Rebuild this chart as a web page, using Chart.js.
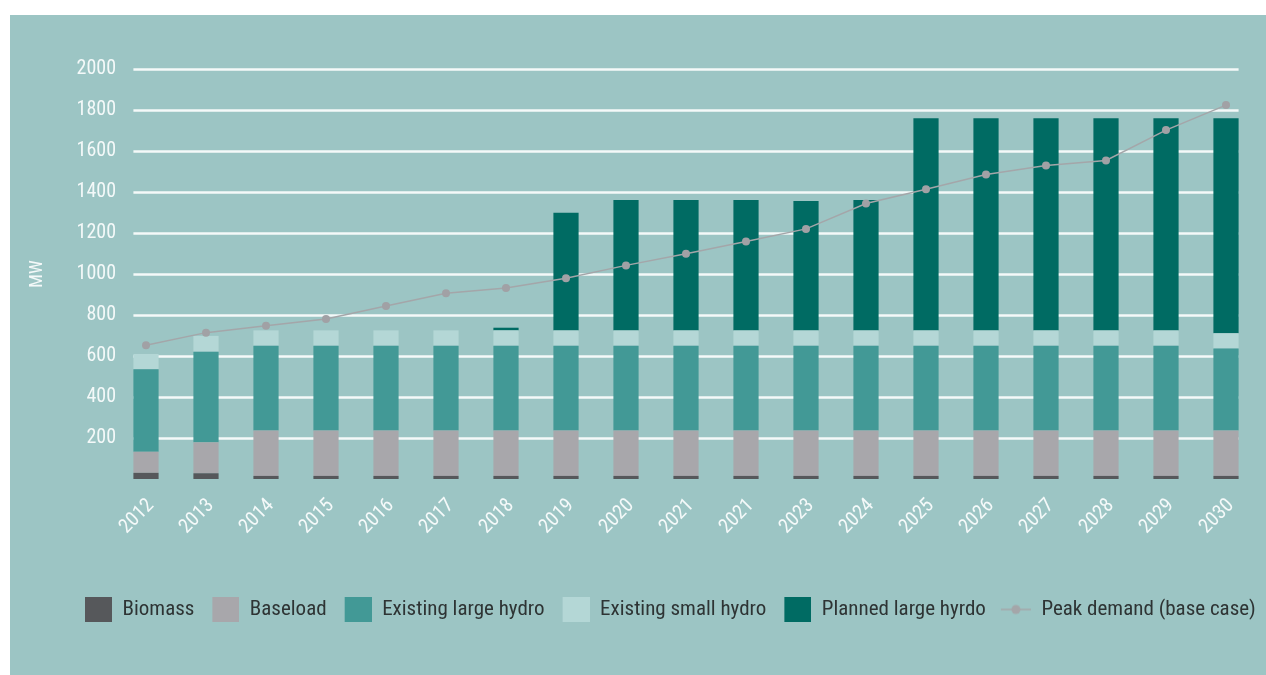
<!DOCTYPE html>
<html>
<head>
<meta charset="utf-8">
<script src="https://cdn.jsdelivr.net/npm/chart.js@4/dist/chart.umd.min.js"></script>
<style>
  html, body { margin: 0; padding: 0; background: #fff; }
  #panel { position: absolute; left: 10px; top: 15px; width: 1256px; height: 660px; background: #9cc5c4; }
  #chart { position: absolute; left: 0; top: 0; }
</style>
</head>
<body>
<div id="panel"></div>
<canvas id="chart" width="1266" height="675"></canvas>
<script>
const years = ['2012', '2013', '2014', '2015', '2016', '2017', '2018', '2019', '2020', '2021',
               '2021', '2023', '2024', '2025', '2026', '2027', '2028', '2029', '2030'];

// MW per source, stacked bottom to top
const biomass      = [30, 28, 15, 15, 15, 15, 15, 15, 15, 15, 15, 15, 15, 15, 15, 15, 15, 15, 15];
const baseload     = [103, 151, 221, 221, 221, 221, 221, 221, 221, 221, 221, 221, 221, 221, 221, 221, 221, 221, 221];
const largeHydro   = [402, 442, 414, 414, 414, 414, 414, 414, 414, 414, 414, 414, 414, 414, 414, 414, 414, 414, 400];
const smallHydro   = [75, 77, 75, 75, 75, 75, 75, 75, 75, 75, 75, 75, 75, 75, 75, 75, 75, 75, 75];
const plannedHydro = [0, 0, 0, 0, 0, 0, 13, 574, 636, 636, 636, 631, 636, 1035, 1035, 1035, 1035, 1035, 1049];
const peakDemand   = [652, 714, 748, 780, 844, 906, 932, 979, 1042, 1099, 1158, 1220, 1344, 1413, 1485, 1529, 1554, 1702, 1824];

const yTicks = [200, 400, 600, 800, 1000, 1200, 1400, 1600, 1800, 2000];

const FONT = "'Roboto Condensed', 'Liberation Sans', sans-serif";
const WHITE = '#f4f9f9';
const LINE_GREY = '#a4a6a9';

// legend markers are 43px wide; the mark sits at the right, the left part spaces the items
const ICON_W = 43;
function boxIcon(color) {
    const c = document.createElement('canvas');
    c.width = ICON_W; c.height = 25;
    const g = c.getContext('2d');
    g.fillStyle = color;
    g.fillRect(ICON_W - 27, 0, 27, 25);
    return c;
}
function lineIcon(color) {
    const c = document.createElement('canvas');
    c.width = ICON_W; c.height = 12;
    const g = c.getContext('2d');
    g.strokeStyle = color;
    g.lineWidth = 1.5;
    g.beginPath(); g.moveTo(ICON_W - 30, 6); g.lineTo(ICON_W, 6); g.stroke();
    g.fillStyle = color;
    g.beginPath(); g.arc(ICON_W - 15, 6, 4.5, 0, Math.PI * 2); g.fill();
    return c;
}

// white grid lines spanning from the first bar to the last one
const gridLines = {
    id: 'gridLines',
    beforeDatasetsDraw(chart) {
        const bars = chart.getDatasetMeta(0).data;
        const first = bars[0], last = bars[bars.length - 1];
        const x0 = first.x - first.width / 2;
        const x1 = last.x + last.width / 2;
        const y = chart.scales.y;
        const ctx = chart.ctx;
        ctx.save();
        ctx.strokeStyle = WHITE;
        ctx.lineWidth = 2.5;
        y.ticks.forEach(t => {
            const py = Math.round(y.getPixelForValue(t.value)) + 0.5;
            ctx.beginPath();
            ctx.moveTo(x0, py);
            ctx.lineTo(x1, py);
            ctx.stroke();
        });
        ctx.restore();
    }
};

const bar = (label, data, color) => ({
    type: 'bar', label, data, backgroundColor: color, borderWidth: 0,
    categoryPercentage: 0.42, barPercentage: 1, order: 1
});

new Chart(document.getElementById('chart'), {
    data: {
        labels: years,
        datasets: [
            bar('Biomass', biomass, '#56585b'),
            bar('Baseload', baseload, '#a8a7ab'),
            bar('Existing large hydro', largeHydro, '#429996'),
            bar('Existing small hydro', smallHydro, '#b4d7d6'),
            bar('Planned large hyrdo', plannedHydro, '#006b63'),
            {
                type: 'line', label: 'Peak demand (base case)', data: peakDemand,
                stack: 'demand', order: 0,
                borderColor: LINE_GREY, borderWidth: 1.5,
                pointRadius: 4, pointBackgroundColor: '#a1a1a5', pointBorderWidth: 0,
                tension: 0
            }
        ]
    },
    options: {
        responsive: false,
        animation: false,
        layout: { padding: { left: 67, right: 0, top: 69, bottom: 45 } },
        scales: {
            x: {
                stacked: true,
                grid: { display: false, drawTicks: false },
                border: { display: false },
                ticks: {
                    color: WHITE, font: { family: FONT, size: 20 },
                    maxRotation: 45, minRotation: 45, padding: 15, labelOffset: 5, autoSkip: false
                },
                afterFit: s => { s.height = 118; }
            },
            y: {
                stacked: true,
                min: 0, max: 2000,
                grid: { display: false, drawTicks: false },
                border: { display: false },
                afterBuildTicks: s => { s.ticks = yTicks.map(v => ({ value: v })); },
                ticks: {
                    color: WHITE, font: { family: FONT, size: 20 }, padding: 0,
                    callback: v => String(v)
                },
                title: {
                    display: true, text: 'MW', color: WHITE,
                    font: { family: FONT, size: 18 }, padding: { top: -40, bottom: 0 }
                },
                afterFit: s => { s.width = 49; }
            },
            // empty strip on the right of the plot, keeps the legend row wide
            edge: {
                type: 'linear', position: 'right',
                ticks: { display: false },
                grid: { display: false, drawTicks: false },
                border: { display: false },
                afterFit: s => { s.width = 10; }
            }
        },
        plugins: {
            tooltip: { enabled: false },
            legend: {
                position: 'bottom',
                align: 'start',
                labels: {
                    color: '#2e3434',
                    font: { family: FONT, size: 21 },
                    usePointStyle: true,
                    pointStyleWidth: ICON_W,
                    padding: 2,
                    generateLabels: chart => chart.data.datasets.map((ds, i) => ({
                        text: ds.label,
                        pointStyle: ds.type === 'line' ? lineIcon(LINE_GREY) : boxIcon(ds.backgroundColor),
                        fillStyle: ds.backgroundColor,
                        strokeStyle: 'transparent',
                        lineWidth: 0,
                        fontColor: '#2e3434',
                        hidden: false,
                        datasetIndex: i
                    }))
                }
            }
        }
    },
    plugins: [gridLines]
});
</script>
</body>
</html>
